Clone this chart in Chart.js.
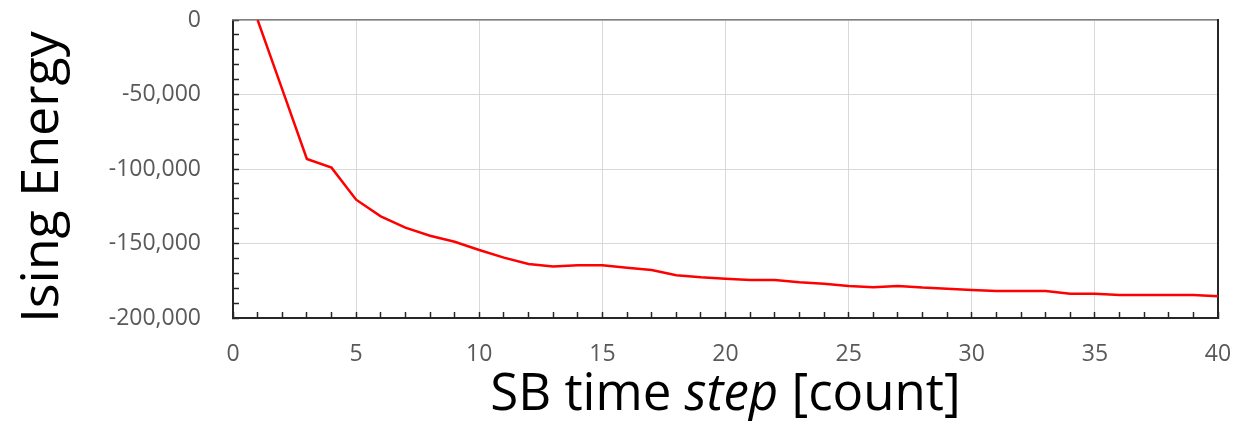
<!DOCTYPE html>
<html>
<head>
<meta charset="utf-8">
<script src="https://cdn.jsdelivr.net/npm/chart.js@4.4.1/dist/chart.umd.min.js"></script>
<style>
  html, body { margin: 0; padding: 0; background: #fff; }
  #wrap { width: 1235px; height: 421px; }
</style>
</head>
<body>
<div id="wrap"><canvas id="chart" width="1235" height="421"></canvas></div>
<script>
// SB time step (count) and the Ising energy
var steps = [1, 2, 3, 4, 5, 6, 7, 8, 9, 10,
             11, 12, 13, 14, 15, 16, 17, 18, 19, 20,
             21, 22, 23, 24, 25, 26, 27, 28, 29, 30,
             31, 32, 33, 34, 35, 36, 37, 38, 39, 40];
var energy = [0, -46600, -93300, -99100, -120600, -131800, -139400, -144800, -148800, -154400,
              -159500, -163800, -165500, -164600, -164600, -166200, -167800, -171300, -172700, -173600,
              -174500, -174500, -176000, -177000, -178500, -179400, -178500, -179600, -180300, -181200,
              -181900, -181900, -181900, -183700, -183700, -184600, -184600, -184600, -184600, -185400];
var xTicks = [0, 5, 10, 15, 20, 25, 30, 35, 40];
var yTicks = [0, -50000, -100000, -150000, -200000];

var FONT = "'Open Sans', 'Noto Sans', sans-serif";
var GRID = '#d9d9d9';
var AXIS = '#262626';
var LABEL = '#595959';

var points = steps.map(function (s, i) { return { x: s, y: energy[i] }; });

// tick label padding must not push the plot area in
function noPad(s) { s.paddingTop = 0; s.paddingBottom = 0; s.paddingLeft = 0; s.paddingRight = 0; }

// axis titles: x title has "step" in italics, so both are drawn by hand
var titlePlugin = {
    id: 'axisTitles',
    afterDraw: function (chart) {
        var ctx = chart.ctx, area = chart.chartArea;
        var parts = [
            { t: 'SB time ', f: 'normal 51px ' + FONT },
            { t: 'step', f: 'italic 51px ' + FONT },
            { t: ' [count]', f: 'normal 51px ' + FONT }
        ];
        ctx.save();
        var total = 0;
        parts.forEach(function (p) { ctx.font = p.f; p.w = ctx.measureText(p.t).width; total += p.w; });
        var x = (area.left + area.right) / 2 - total / 2;
        var y = area.bottom + 92;
        ctx.fillStyle = '#000';
        ctx.textBaseline = 'alphabetic';
        parts.forEach(function (p) { ctx.font = p.f; ctx.fillText(p.t, x, y); x += p.w; });

        // y title, rotated
        ctx.translate(43, (area.top + area.bottom) / 2 + 8);
        ctx.rotate(-Math.PI / 2);
        ctx.font = 'normal 52px ' + FONT;
        ctx.textAlign = 'center';
        ctx.textBaseline = 'middle';
        ctx.fillText('Ising Energy', 0, 0);
        ctx.restore();
    }
};

var config = {
    type: 'line',
    data: {
        datasets: [{
            label: 'Ising Energy',
            data: points,
            borderColor: '#ff0000',
            backgroundColor: '#ff0000',
            borderWidth: 2.5,
            pointRadius: 0,
            tension: 0,
            fill: false
        }]
    },
    options: {
        responsive: false,
        animation: false,
        events: [],
        layout: { padding: { top: 20, right: 17, left: 0, bottom: 0 } },
        plugins: {
            legend: { display: false },
            tooltip: { enabled: false },
            title: { display: false }
        },
        scales: {
            x: {
                type: 'linear',
                position: 'bottom',
                min: xTicks[0],
                max: xTicks[xTicks.length - 1],
                ticks: {
                    stepSize: 1,
                    autoSkip: false,
                    maxRotation: 0,
                    padding: 29,
                    color: LABEL,
                    font: { family: FONT, size: 23 },
                    callback: function (v) { return xTicks.indexOf(v) >= 0 ? String(v) : ''; }
                },
                grid: {
                    color: function (c) { return xTicks.indexOf(c.tick.value) >= 0 ? GRID : 'rgba(0,0,0,0)'; },
                    lineWidth: 1,
                    drawTicks: true,
                    tickLength: -6,
                    tickColor: AXIS,
                    tickWidth: 1.5
                },
                border: { display: true, color: AXIS, width: 2 },
                afterFit: function (s) { s.height = 103; noPad(s); }
            },
            y: {
                type: 'linear',
                position: 'left',
                min: yTicks[yTicks.length - 1],
                max: yTicks[0],
                ticks: {
                    stepSize: 10000,
                    autoSkip: false,
                    padding: 38,
                    color: LABEL,
                    font: { family: FONT, size: 23 },
                    callback: function (v) { return yTicks.indexOf(v) >= 0 ? v.toLocaleString('en-US') : ''; }
                },
                grid: {
                    color: function (c) { return yTicks.indexOf(c.tick.value) >= 0 ? GRID : 'rgba(0,0,0,0)'; },
                    lineWidth: 1,
                    drawTicks: true,
                    tickLength: -6,
                    tickColor: AXIS,
                    tickWidth: 1.5
                },
                border: { display: true, color: AXIS, width: 2 },
                afterFit: function (s) { s.width = 233; noPad(s); }
            },
            xTop: {
                type: 'linear',
                position: 'top',
                min: 0, max: 1,
                ticks: { display: false },
                grid: { display: false, drawTicks: false },
                border: { display: true, color: '#7f7f7f', width: 1.5 },
                afterFit: function (s) { s.height = 0; noPad(s); }
            },
            yRight: {
                type: 'linear',
                position: 'right',
                min: 0, max: 1,
                ticks: { display: false },
                grid: { display: false, drawTicks: false },
                border: { display: true, color: AXIS, width: 2 },
                afterFit: function (s) { s.width = 0; noPad(s); }
            }
        }
    },
    plugins: [titlePlugin]
};

window.myChart = new Chart(document.getElementById('chart'), config);
</script>
</body>
</html>
